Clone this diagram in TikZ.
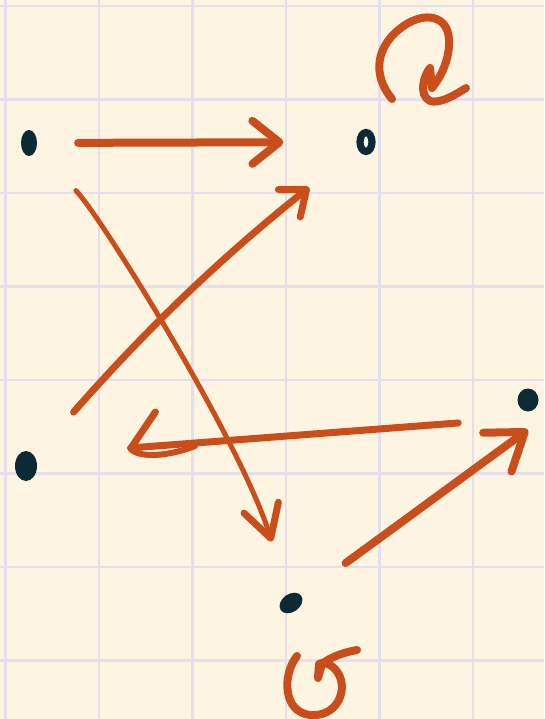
\documentclass[tikz,border=0pt]{standalone}
\usepackage{tikz}
\usetikzlibrary{arrows.meta,shapes.geometric}

\definecolor{paper}{RGB}{253,245,226}
\definecolor{gridcol}{RGB}{229,222,236}
\definecolor{ink}{RGB}{12,42,51}
\definecolor{pen}{RGB}{202,78,27}

\begin{document}
\begin{tikzpicture}[
  x=0.5mm, y=-0.5mm,
  dot/.style={ellipse, fill=ink, inner sep=0pt},
  gridline/.style={draw=gridcol, line width=1.2mm},
  edge/.style={draw=pen, line width=4mm, line cap=round, line join=round},
  curl/.style={draw=pen, line width=4mm, line cap=round, line join=round},
]
  % paper and grid
  \fill[paper] (0,0) rectangle (544,719);
  \useasboundingbox (0,0) rectangle (544,719);
  \foreach \i in {0,...,5}
    \draw[gridline] ({5.5+93.5*\i},0) -- ({5.5+93.5*\i},719);
  \foreach \j in {0,...,7}
    \draw[gridline] (0,{6+93.5*\j}) -- (544,{6+93.5*\j});

  % the five points
  \node[dot, minimum width=8mm, minimum height=13mm] (a) at (29,143) {};
  \node[ellipse, draw=ink, fill=paper, line width=3.6mm, inner sep=0pt,
        minimum width=6mm, minimum height=9.5mm] (b) at (366,142) {};
  \node[dot, minimum width=10.5mm, minimum height=11.5mm] (c) at (528,400) {};
  \node[dot, minimum width=11mm, minimum height=15mm] (d) at (26,466) {};
  \node[dot, minimum width=12.5mm, minimum height=9mm, rotate=35] (e) at (291,603) {};

  % arrows
  \draw[edge, -{Straight Barb[length=13.5mm,width=21.5mm,round]},
        shorten <=20.5mm, shorten >=36.5mm] (a) -- (b);
  \draw[edge, line width=3.5mm, -{Straight Barb[length=11mm,width=17.5mm,round]},
        shorten <=29.5mm, shorten >=31mm] (d) to[bend left=5] (b);
  \draw[edge, line width=2.5mm,
        -{Straight Barb[length=16mm,width=18mm,line width=3.5mm,round]},
        shorten <=28.5mm, shorten >=27.5mm] (a) .. controls (100,215) and (240,440) .. (e);
  \draw[edge, -{Straight Barb[length=17mm,width=24mm,round]},
        shorten <=27.5mm] (e) -- ([yshift=-9mm]c.south);
  \draw[edge, line width=3.5mm, -{Straight Barb[right,length=13.5mm,width=34mm,round]},
        shorten <=35mm, shorten >=47mm] ([yshift=-3mm]c.south) -- (d.north east);

  % hook under the tip of c -> d
  \begin{scope}[shift={(d)}]
    \draw[curl, line width=3mm] (104,-18) .. controls (112,-7) and (144,-10) .. (169,-20);
  \end{scope}

  % loops on b and e
  \begin{scope}[shift={(b)}]
    \draw[curl] (26,-43) .. controls (6,-67) and (9,-97) .. (39,-117)
      .. controls (59,-130) and (82,-127) .. (83,-102)
      .. controls (84,-82) and (74,-64) .. (66,-54) -- (64,-74)
      .. controls (58,-67) and (52,-47) .. (64,-41)
      .. controls (74,-38) and (89,-47) .. (100,-54);
  \end{scope}
  \begin{scope}[shift={(e)}]
    \draw[curl] (6,53) .. controls (-9,72) and (-8,109) .. (19,112)
      .. controls (44,114) and (54,92) .. (50,77)
      .. controls (47,65) and (35,57) .. (28,61) -- (27,75) -- (31,61)
      .. controls (39,54) and (54,49) .. (66,47);
  \end{scope}
\end{tikzpicture}
\end{document}
